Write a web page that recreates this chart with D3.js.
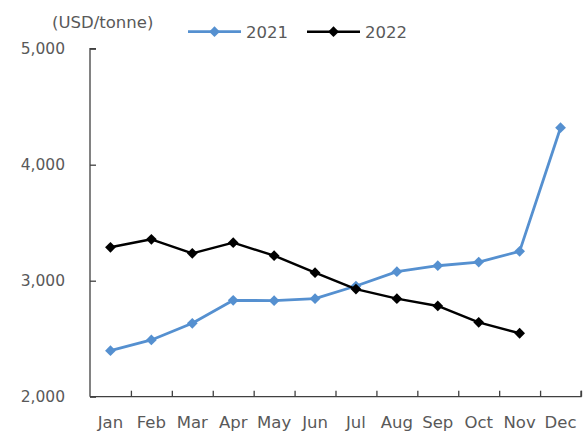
<!DOCTYPE html>
<html><head><meta charset="utf-8">
<script src="https://cdn.jsdelivr.net/npm/d3@7/dist/d3.min.js"></script>
<style>body{margin:0;background:#fff}svg text{font-family:"DejaVu Sans",Verdana,sans-serif;fill:#595959}</style>
</head><body><svg id="c" width="585" height="433"></svg>
<script>
const months = ["Jan","Feb","Mar","Apr","May","Jun","Jul","Aug","Sep","Oct","Nov","Dec"];
const values2021 = [2397,2489,2633,2831,2828,2845,2954,3078,3129,3161,3253,4319];
const values2022 = [3288,3357,3236,3328,3216,3069,2928,2845,2782,2641,2547];
const yTicks = [2000,3000,4000,5000];
const unitLabel = "(USD/tonne)";
const seriesNames = ["2021","2022"];

const svg = d3.select("#c");
const L = 90, R = 581, T = 48.7, B = 396.7;
const x = d3.scaleBand().domain(months).range([L, R]);
const y = d3.scaleLinear().domain([2000,5000]).range([B, T]);
const axisColor = "#404040";

const ya = svg.append("g").attr("transform",`translate(${L},0)`)
  .call(d3.axisRight(y).tickValues(yTicks).tickSize(6).tickFormat(""));
ya.select(".domain").attr("stroke",axisColor).attr("stroke-width",1.3).attr("d",`M6,${T}H0V${B}`);
ya.selectAll(".tick line").attr("stroke",axisColor).attr("stroke-width",1.3);
svg.append("g").selectAll("text").data(yTicks).join("text")
  .attr("x",65).attr("y",d=>y(d)).attr("dy","0.36em").attr("text-anchor","end")
  .attr("font-size",15.5).text(d3.format(","));

const xa = svg.append("g").attr("transform",`translate(0,${B})`)
  .call(d3.axisTop(d3.scaleLinear().domain([0,12]).range([L,R])).tickValues(d3.range(1,13)).tickSize(6).tickFormat(""));
xa.select(".domain").attr("stroke",axisColor).attr("stroke-width",1.3).attr("d",`M${L},0H${R}V-6`);
xa.selectAll(".tick line").attr("stroke",axisColor).attr("stroke-width",1.3);
svg.append("g").selectAll("text").data(months).join("text")
  .attr("x",d=>x(d)+x.bandwidth()/2).attr("y",422).attr("dy","0.36em").attr("text-anchor","middle")
  .attr("font-size",16.5).text(d=>d);

svg.append("text").attr("x",52).attr("y",22).attr("dy","0.36em").attr("font-size",16.5).text(unitLabel);

const cx = i => x(months[i]) + x.bandwidth()/2;
const line = d3.line().x((d,i)=>cx(i)).y(d=>y(d));
const diamond = d3.symbol().type(d3.symbolSquare).size(58);

function drawSeries(vals, color, w){
  svg.append("path").datum(vals).attr("d",line).attr("fill","none").attr("stroke",color).attr("stroke-width",w).attr("stroke-linejoin","round");
  svg.append("g").selectAll("path").data(vals).join("path")
    .attr("d",diamond).attr("transform",(d,i)=>`translate(${cx(i)},${y(d)}) rotate(45)`).attr("fill",color);
}
drawSeries(values2021, "#5590D0", 2.8);
drawSeries(values2022, "#000000", 2.4);

const leg = [{n:seriesNames[0],c:"#5590D0",w:2.8,x1:188,x2:241,tx:246},{n:seriesNames[1],c:"#000000",w:2.4,x1:307,x2:360,tx:365}];
leg.forEach(l=>{
  svg.append("line").attr("x1",l.x1).attr("x2",l.x2).attr("y1",31.7).attr("y2",31.7).attr("stroke",l.c).attr("stroke-width",l.w);
  svg.append("path").attr("d",diamond).attr("transform",`translate(${(l.x1+l.x2)/2},31.7) rotate(45)`).attr("fill",l.c);
  svg.append("text").attr("x",l.tx).attr("y",31.7).attr("dy","0.36em").attr("font-size",16.5).text(l.n);
});
</script></body></html>
